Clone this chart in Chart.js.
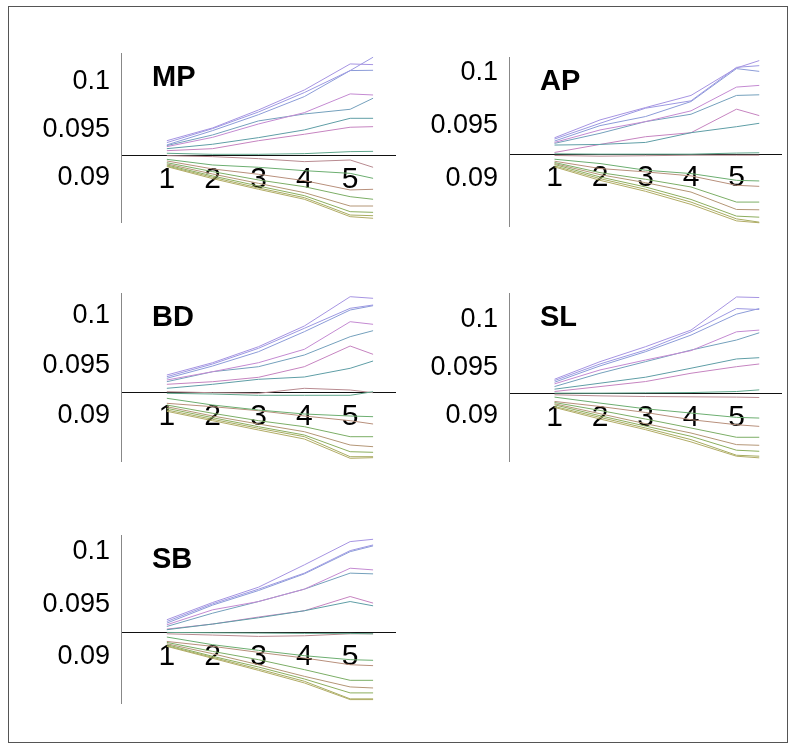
<!DOCTYPE html>
<html>
<head>
<meta charset="utf-8">
<title>MP AP BD SL SB</title>
<script src="https://cdn.jsdelivr.net/npm/chart.js@4.4.1/dist/chart.umd.min.js"></script>
<style>
  body { margin: 0; background: #fff; }
  #frame { position: absolute; left: 8px; top: 6px; width: 778px; height: 735px; border: 1px solid #555; }
  canvas { position: absolute; }
</style>
</head>
<body>
<div id="frame"></div>
<canvas id="mp" width="385" height="170" style="left:11px; top:53px"></canvas>
<canvas id="ap" width="383" height="170" style="left:399px; top:57px"></canvas>
<canvas id="bd" width="385" height="169" style="left:11px; top:293px"></canvas>
<canvas id="sl" width="383" height="169" style="left:399px; top:293px"></canvas>
<canvas id="sb" width="385" height="169" style="left:11px; top:535px"></canvas>
<script>
// x positions of the samples, shared by every curve
const xValues = [1, 2, 3, 4, 5, 5.5];
const xTicks = [1, 2, 3, 4, 5];
const yTicks = [0.09, 0.095, 0.1];
const yTickLabels = ['0.09', '0.095', '0.1'];
const panelNames = ['MP', 'AP', 'BD', 'SL', 'SB'];

const mpSeries = [
    [0.09357, 0.09490, 0.09677, 0.09885, 0.10156, 0.10149],
    [0.09337, 0.09483, 0.09656, 0.09858, 0.10087, 0.10226],
    [0.09313, 0.09462, 0.09628, 0.09816, 0.10087, 0.10090],
    [0.09295, 0.09392, 0.09531, 0.09649, 0.09844, 0.09833],
    [0.09306, 0.09417, 0.09563, 0.09635, 0.09684, 0.09799],
    [0.09274, 0.09320, 0.09389, 0.09469, 0.09590, 0.09590],
    [0.09253, 0.09274, 0.09357, 0.09424, 0.09497, 0.09503],
    [0.09226, 0.09215, 0.09215, 0.09222, 0.09243, 0.09246],
    [0.09201, 0.09191, 0.09170, 0.09139, 0.09156, 0.09080],
    [0.09163, 0.09104, 0.09080, 0.09045, 0.09017, 0.08965],
    [0.09146, 0.09063, 0.09007, 0.08941, 0.08844, 0.08851],
    [0.09128, 0.09035, 0.08948, 0.08878, 0.08774, 0.08747],
    [0.09115, 0.09010, 0.08913, 0.08816, 0.08677, 0.08677],
    [0.09104, 0.08990, 0.08885, 0.08785, 0.08618, 0.08611],
    [0.09094, 0.08976, 0.08865, 0.08764, 0.08583, 0.08576],
    [0.09087, 0.08962, 0.08851, 0.08747, 0.08566, 0.08549]
];

const apSeries = [
    [0.09355, 0.09524, 0.09641, 0.09756, 0.10016, 0.10086],
    [0.09343, 0.09492, 0.09635, 0.09705, 0.10022, 0.10038],
    [0.09324, 0.09470, 0.09556, 0.09698, 0.10010, 0.09984],
    [0.09311, 0.09429, 0.09508, 0.09610, 0.09835, 0.09851],
    [0.09302, 0.09397, 0.09508, 0.09578, 0.09756, 0.09762],
    [0.09286, 0.09292, 0.09311, 0.09403, 0.09460, 0.09492],
    [0.09216, 0.09292, 0.09365, 0.09403, 0.09626, 0.09565],
    [0.09203, 0.09200, 0.09200, 0.09200, 0.09210, 0.09213],
    [0.09187, 0.09181, 0.09185, 0.09190, 0.09190, 0.09190],
    [0.09152, 0.09111, 0.09048, 0.09016, 0.08952, 0.08946],
    [0.09133, 0.09064, 0.09032, 0.08994, 0.08905, 0.08895],
    [0.09121, 0.09025, 0.08962, 0.08889, 0.08746, 0.08746],
    [0.09111, 0.09006, 0.08930, 0.08841, 0.08676, 0.08673],
    [0.09102, 0.08984, 0.08889, 0.08771, 0.08613, 0.08603],
    [0.09089, 0.08968, 0.08867, 0.08746, 0.08587, 0.08556],
    [0.09079, 0.08952, 0.08848, 0.08724, 0.08568, 0.08550]
];

const bdSeries = [
    [0.09380, 0.09503, 0.09663, 0.09870, 0.10163, 0.10147],
    [0.09363, 0.09490, 0.09647, 0.09847, 0.10047, 0.10080],
    [0.09347, 0.09470, 0.09613, 0.09813, 0.10030, 0.10073],
    [0.09330, 0.09413, 0.09503, 0.09637, 0.09913, 0.09887],
    [0.09313, 0.09413, 0.09463, 0.09580, 0.09763, 0.09823],
    [0.09247, 0.09287, 0.09337, 0.09360, 0.09447, 0.09520],
    [0.09287, 0.09313, 0.09357, 0.09463, 0.09670, 0.09587],
    [0.09197, 0.09190, 0.09177, 0.09177, 0.09177, 0.09213],
    [0.09213, 0.09203, 0.09197, 0.09247, 0.09230, 0.09203],
    [0.09147, 0.09080, 0.09030, 0.08990, 0.08970, 0.08963],
    [0.09097, 0.09063, 0.09023, 0.08970, 0.08923, 0.08890],
    [0.09080, 0.08997, 0.08923, 0.08863, 0.08763, 0.08763],
    [0.09063, 0.08970, 0.08890, 0.08813, 0.08680, 0.08663],
    [0.09047, 0.08953, 0.08863, 0.08780, 0.08613, 0.08607],
    [0.09030, 0.08937, 0.08847, 0.08763, 0.08563, 0.08563],
    [0.09017, 0.08923, 0.08830, 0.08740, 0.08547, 0.08553]
];

const slSeries = [
    [0.09347, 0.09529, 0.09684, 0.09856, 0.10199, 0.10193],
    [0.09333, 0.09505, 0.09649, 0.09838, 0.10079, 0.10069],
    [0.09316, 0.09485, 0.09632, 0.09804, 0.10021, 0.10079],
    [0.09299, 0.09443, 0.09546, 0.09643, 0.09838, 0.09856],
    [0.09271, 0.09409, 0.09529, 0.09649, 0.09753, 0.09828],
    [0.09244, 0.09306, 0.09368, 0.09461, 0.09557, 0.09570],
    [0.09220, 0.09271, 0.09323, 0.09409, 0.09477, 0.09505],
    [0.09203, 0.09203, 0.09206, 0.09209, 0.09220, 0.09237],
    [0.09186, 0.09175, 0.09168, 0.09165, 0.09162, 0.09158],
    [0.09162, 0.09100, 0.09041, 0.08997, 0.08952, 0.08945],
    [0.09117, 0.09065, 0.09003, 0.08928, 0.08876, 0.08859],
    [0.09106, 0.09024, 0.08935, 0.08842, 0.08746, 0.08746],
    [0.09093, 0.08990, 0.08887, 0.08790, 0.08670, 0.08663],
    [0.09082, 0.08969, 0.08862, 0.08756, 0.08612, 0.08601],
    [0.09065, 0.08952, 0.08842, 0.08722, 0.08560, 0.08550],
    [0.09055, 0.08935, 0.08825, 0.08698, 0.08550, 0.08533]
];

const sbSeries = [
    [0.09324, 0.09489, 0.09635, 0.09848, 0.10070, 0.10092],
    [0.09308, 0.09476, 0.09616, 0.09769, 0.09984, 0.10038],
    [0.09292, 0.09464, 0.09603, 0.09762, 0.09974, 0.10029],
    [0.09276, 0.09419, 0.09498, 0.09616, 0.09816, 0.09800],
    [0.09260, 0.09387, 0.09498, 0.09616, 0.09769, 0.09762],
    [0.09229, 0.09283, 0.09343, 0.09410, 0.09498, 0.09457],
    [0.09235, 0.09283, 0.09350, 0.09410, 0.09546, 0.09483],
    [0.09203, 0.09200, 0.09197, 0.09194, 0.09194, 0.09190],
    [0.09190, 0.09178, 0.09165, 0.09171, 0.09190, 0.09190],
    [0.09159, 0.09086, 0.09032, 0.08981, 0.08943, 0.08937],
    [0.09117, 0.09070, 0.09013, 0.08959, 0.08895, 0.08886],
    [0.09108, 0.09022, 0.08943, 0.08848, 0.08746, 0.08746],
    [0.09095, 0.09000, 0.08895, 0.08784, 0.08683, 0.08673],
    [0.09086, 0.08975, 0.08873, 0.08759, 0.08626, 0.08626],
    [0.09076, 0.08965, 0.08854, 0.08737, 0.08569, 0.08569],
    [0.09070, 0.08956, 0.08841, 0.08721, 0.08562, 0.08562]
];

// one colour per curve, same order in every panel
const lineColors = [
    '#a694e2', '#9c98e2', '#8c9cd8', '#c48ad2', '#74a0bc', '#5f9ea6', '#c684c0', '#60a68c',
    '#b88a90', '#6cae70', '#b8907c', '#7cae66', '#b49676', '#8cae5e', '#a8ac62', '#b2ac66'
];

const panels = [
    { canvas: 'mp', series: mpSeries, yMin: 0.0850, yMax: 0.1027 },
    { canvas: 'ap', series: apSeries, yMin: 0.0851, yMax: 0.1012 },
    { canvas: 'bd', series: bdSeries, yMin: 0.0851, yMax: 0.1020 },
    { canvas: 'sl', series: slSeries, yMin: 0.0849, yMax: 0.1024 },
    { canvas: 'sb', series: sbSeries, yMin: 0.0852, yMax: 0.10133 }
];

const FONT = '"Liberation Sans", Arial, Helvetica, sans-serif';

// bold panel name in the upper left of the plot area
const panelLabel = {
    id: 'panelLabel',
    afterDraw(chart, args, opts) {
        const { ctx, chartArea } = chart;
        ctx.save();
        ctx.font = 'bold 29px ' + FONT;
        ctx.fillStyle = '#000';
        ctx.textBaseline = 'alphabetic';
        ctx.fillText(opts.text, chartArea.left + 31, chartArea.top + 33);
        ctx.restore();
    }
};

panels.forEach(function(p, idx) {
    const ctx = document.getElementById(p.canvas).getContext('2d');
    new Chart(ctx, {
        type: 'line',
        data: {
            datasets: p.series.map(function(row, i) {
                return {
                    data: xValues.map((x, j) => ({ x: x, y: row[j] })),
                    borderColor: lineColors[i],
                    borderWidth: 1,
                    pointRadius: 0,
                    tension: 0,
                    fill: false
                };
            })
        },
        options: {
            responsive: false,
            animation: false,
            layout: { padding: 0 },
            plugins: {
                legend: { display: false },
                tooltip: { enabled: false },
                panelLabel: { text: panelNames[idx] }
            },
            scales: {
                x: {
                    type: 'linear',
                    min: 0,
                    max: 6,
                    position: { y: 0.092 },
                    grid: { drawOnChartArea: false, drawTicks: false },
                    border: { color: '#111', width: 1 },
                    afterBuildTicks: s => { s.ticks = xTicks.map(v => ({ value: v })); },
                    afterFit: s => {
                        s.height = 0;
                        s.paddingLeft = 0;
                        s.paddingRight = 0;
                    },
                    ticks: {
                        padding: 6,
                        color: '#000',
                        maxRotation: 0,
                        autoSkip: false,
                        font: { size: 30, family: FONT },
                        callback: v => String(v)
                    }
                },
                y: {
                    type: 'linear',
                    min: p.yMin,
                    max: p.yMax,
                    grid: { drawOnChartArea: false, drawTicks: false },
                    border: { color: '#888', width: 1 },
                    afterBuildTicks: s => { s.ticks = yTicks.map(v => ({ value: v })); },
                    afterFit: s => {
                        s.width = 110;
                        s.paddingTop = 0;
                        s.paddingBottom = 0;
                    },
                    ticks: {
                        padding: 11,
                        labelOffset: 3,
                        color: '#000',
                        font: { size: 27, family: FONT },
                        callback: v => yTickLabels[yTicks.indexOf(v)]
                    }
                }
            }
        },
        plugins: [panelLabel]
    });
});
</script>
</body>
</html>
